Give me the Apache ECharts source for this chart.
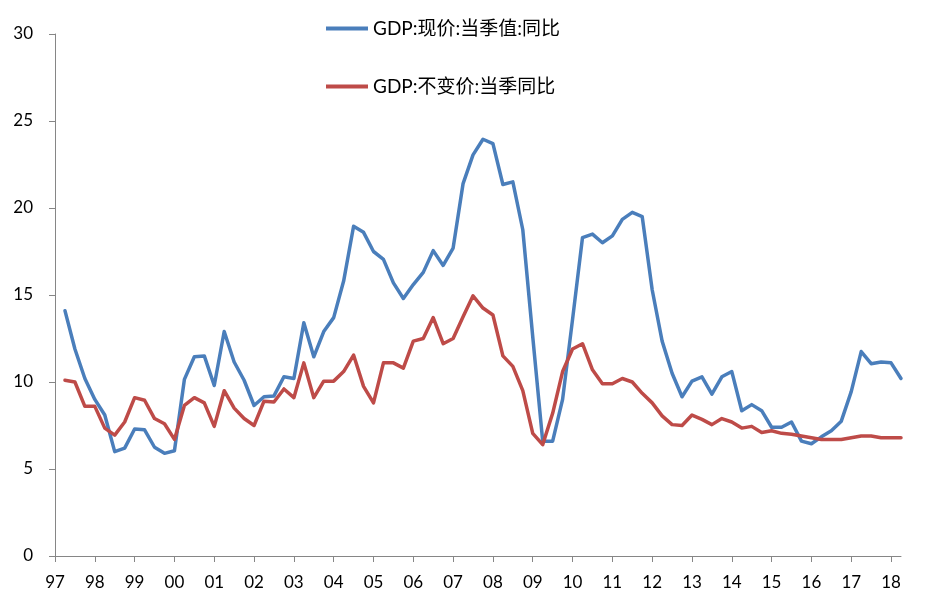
<!DOCTYPE html>
<html>
<head>
<meta charset="utf-8">
<script src="https://cdn.jsdelivr.net/npm/echarts@6/dist/echarts.min.js"></script>
<style>html,body{margin:0;padding:0;background:#fff;}#c{width:928px;height:603px;}</style>
</head>
<body>
<div id="c"></div>
<script>
// Quarterly observations 1997Q1 .. 2018Q1 (85 quarters), plotted at quarter end
const yearTicks = ['97','98','99','00','01','02','03','04','05','06','07','08','09','10','11','12','13','14','15','16','17','18'];
const quarters = [];
for (let y = 1997; y <= 2018; y++) {
  for (let q = 1; q <= 4; q++) {
    if (y === 2018 && q > 1) break;
    quarters.push(y + 'Q' + q);
  }
}
const nominalName = 'GDP:现价:当季值:同比';
const realName = 'GDP:不变价:当季同比';
const nominal = [
  14.1, 11.9, 10.2, 9.0,
  8.1, 6.0, 6.2, 7.3,
  7.25, 6.25, 5.9, 6.05,
  10.15, 11.45, 11.5, 9.8,
  12.9, 11.15, 10.1, 8.65,
  9.15, 9.2, 10.3, 10.2,
  13.4, 11.45, 12.9, 13.7,
  15.8, 18.95, 18.6, 17.5,
  17.05, 15.7, 14.8, 15.6,
  16.3, 17.55, 16.7, 17.7,
  21.4, 23.05, 23.95, 23.7,
  21.35, 21.5, 18.75, 12.6,
  6.6, 6.6, 9.0, 13.6,
  18.3, 18.5, 18.0, 18.4,
  19.35, 19.75, 19.5, 15.3,
  12.35, 10.5, 9.15, 10.05,
  10.3, 9.3, 10.3, 10.6,
  8.35, 8.7, 8.35, 7.4,
  7.4, 7.7, 6.6, 6.45,
  6.85, 7.2, 7.75, 9.45,
  11.75, 11.05, 11.15, 11.1,
  10.2
];
const real = [
  10.1, 10.0, 8.6, 8.6,
  7.35, 6.95, 7.7, 9.1,
  8.95, 7.9, 7.6, 6.7,
  8.65, 9.1, 8.8, 7.45,
  9.5, 8.5, 7.9, 7.5,
  8.9, 8.85, 9.6, 9.1,
  11.1, 9.1, 10.05, 10.05,
  10.6, 11.55, 9.75, 8.8,
  11.1, 11.1, 10.8, 12.35,
  12.5, 13.7, 12.2, 12.5,
  13.75, 14.95, 14.25, 13.85,
  11.5, 10.9, 9.5, 7.05,
  6.4, 8.2, 10.6, 11.9,
  12.2, 10.7, 9.9, 9.9,
  10.2, 10.0, 9.35, 8.8,
  8.05, 7.55, 7.5, 8.1,
  7.85, 7.55, 7.9, 7.7,
  7.35, 7.45, 7.1, 7.2,
  7.05, 7.0, 6.9, 6.8,
  6.7, 6.7, 6.7, 6.8,
  6.9, 6.9, 6.8, 6.8,
  6.8
];
// axis starts at the beginning of 1997 (= end of 1996Q4), so a leading slot is added
const categories = ['1996Q4'].concat(quarters);
const nominalData = [null].concat(nominal);
const realData = [null].concat(real);

const chart = echarts.init(document.getElementById('c'), null, {renderer: 'canvas'});
const font = 'Lato, "Noto Sans CJK SC", sans-serif';
chart.setOption({
  animation: false,
  backgroundColor: '#ffffff',
  grid: {left: 55, right: 27, top: 34, bottom: 47, containLabel: false},
  legend: {
    orient: 'vertical',
    left: 321,
    top: 14,
    itemGap: 39,
    itemWidth: 42,
    itemHeight: 4,
    icon: 'rect',
    textStyle: {fontFamily: font, fontSize: 19, color: '#000'},
    data: [nominalName, realName]
  },
  xAxis: {
    type: 'category',
    data: categories,
    boundaryGap: false,
    axisLine: {show: true, lineStyle: {color: '#868686', width: 1}},
    axisTick: {show: true, length: 6, interval: (i) => i % 4 === 0, lineStyle: {color: '#868686'}},
    axisLabel: {
      interval: (i) => i % 4 === 0,
      formatter: (v, i) => yearTicks[i / 4],
      fontFamily: font, fontSize: 17, color: '#000', margin: 18,
      hideOverlap: false
    },
    splitLine: {show: false}
  },
  yAxis: {
    type: 'value',
    min: 0, max: 30, interval: 5,
    axisLine: {show: true, lineStyle: {color: '#868686', width: 1}},
    axisTick: {show: true, length: 6, lineStyle: {color: '#868686'}},
    axisLabel: {fontFamily: font, fontSize: 17, color: '#000', margin: 22},
    splitLine: {show: false}
  },
  series: [
    {
      name: nominalName, type: 'line', data: nominalData,
      symbol: 'none', smooth: false,
      lineStyle: {color: '#4A7EBB', width: 3.5, join: 'round', cap: 'round'},
      itemStyle: {color: '#4A7EBB'}
    },
    {
      name: realName, type: 'line', data: realData,
      symbol: 'none', smooth: false,
      lineStyle: {color: '#BE4B48', width: 3.5, join: 'round', cap: 'round'},
      itemStyle: {color: '#BE4B48'}
    }
  ]
});
</script>
</body>
</html>
